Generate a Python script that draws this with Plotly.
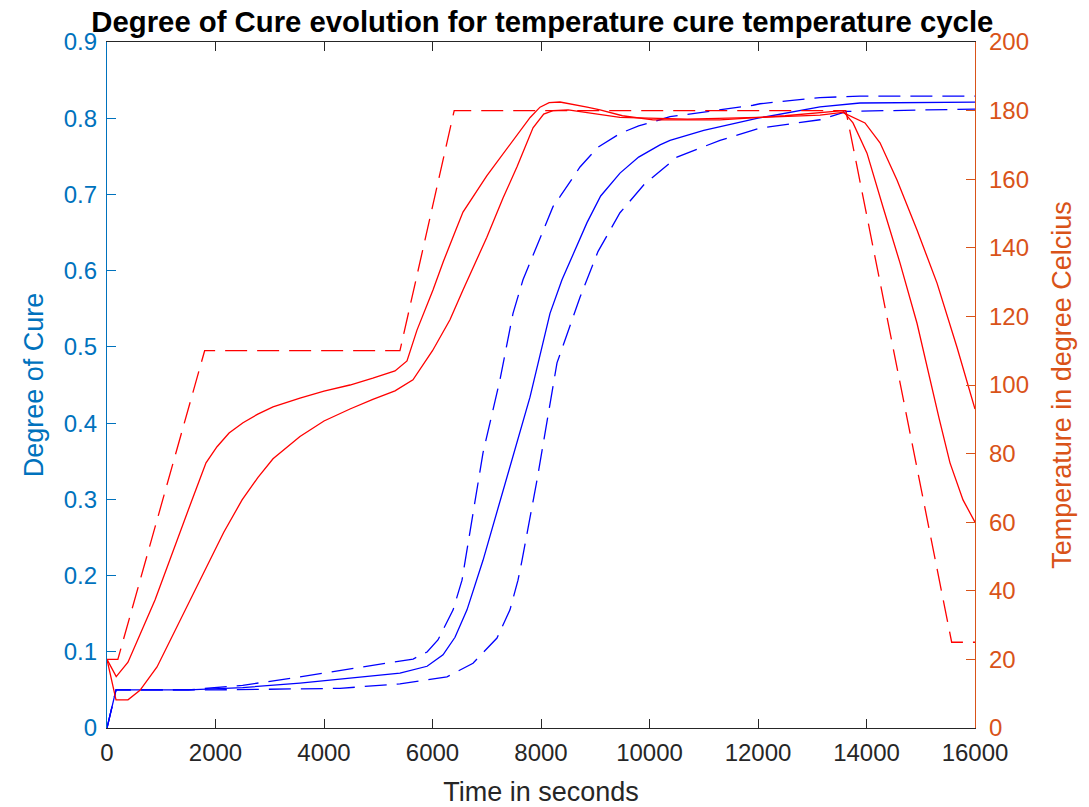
import plotly.graph_objects as go

# ---------------- data ----------------
# Temperature set-point cycle (red dashed, right axis)
t_set = [0, 200, 1800, 5400, 6400, 13620, 15570, 16000]
T_set = [20, 20, 110, 110, 180, 180, 25, 25]

# Temperature curve 1 (red solid, leading)
t_r1 = [0, 170, 387, 885, 1567, 1825, 2028, 2250, 2507, 2780, 3060, 3557, 4000, 4479, 4900, 5309, 5530, 5714, 6009,
        6200, 6415, 6562, 7000, 7300, 7558, 7800, 7982, 8150, 8350, 8600, 8850, 9088, 9500, 10065, 11300,
        12500, 13143, 13560, 13751, 14009, 14304, 14617, 14931, 15170, 15336, 15539, 15779, 16000]
T_r1 = [20, 15, 19.2, 37.3, 66.5, 77.3, 82, 86, 89, 91.5, 93.6, 96.2, 98.2, 100, 102, 104.1, 107, 116, 127.7,
        136, 144.6, 150.4, 161, 167.5, 172.9, 178, 181, 182.3, 182.5, 181.8, 181, 180.2, 178.5, 177.3, 177.3,
        178.5, 179.3, 180, 176.4, 167.6, 151.9, 135.6, 118, 101.5, 90.4, 77.3, 66.5, 60]

# Temperature curve 2 (red solid, lagging)
t_r2 = [0, 166, 387, 608, 922, 1530, 1800, 2150, 2490, 2780, 3060, 3557, 4000, 4479, 4900, 5309, 5640, 6000, 6322,
        6562, 7000, 7300, 7558, 7853, 8050, 8221, 8500, 9000, 9456, 10700, 12000, 13143, 13560,
        13972, 14249, 14562, 14931, 15300, 15668, 16000]
T_r2 = [20, 8.2, 8.2, 11, 17.8, 37.3, 46, 57, 66.5, 73, 78.5, 85, 89.5, 93, 95.8, 98.3, 101.5, 110, 119,
        127.7, 143, 154.5, 163.6, 175, 179, 180, 180.2, 179, 178, 177.5, 178, 178.7, 179.5,
        176.4, 170.6, 159.8, 145.2, 129.7, 111, 93]

# Degree of cure (blue, left axis)
t_b = [0, 166, 1500, 2500, 3557, 4295, 5400, 5900, 6194, 6415, 6636, 6931, 7392, 7797, 8166,
       8387, 8848, 9100, 9456, 9800, 10194, 10378, 11000, 12000, 13143, 13880, 16000]
a_b = [0, 0.05, 0.05, 0.053, 0.059, 0.064, 0.072, 0.081, 0.096, 0.119, 0.155, 0.22, 0.335, 0.434, 0.544,
       0.588, 0.663, 0.698, 0.728, 0.749, 0.765, 0.771, 0.784, 0.800, 0.815, 0.820, 0.821]

t_b1 = [0, 166, 1500, 2500, 3557, 4295, 5643, 5900, 6100, 6380, 6544, 6931, 7244, 7484, 7668,
        8221, 8350, 8719, 9050, 9456, 9800, 10194, 10378, 11908, 12037, 13143, 13880, 16000]
a_b1 = [0, 0.05, 0.05, 0.056, 0.067, 0.075, 0.0905, 0.0997, 0.1155, 0.155, 0.194, 0.361, 0.457, 0.544, 0.588,
        0.684, 0.697, 0.736, 0.762, 0.78, 0.790, 0.798, 0.802, 0.817, 0.819, 0.827, 0.829, 0.829]

t_b2 = [0, 166, 2000, 4295, 5400, 6267, 6747, 7189, 7428, 7576, 7650, 7926, 8295, 8719, 9050, 9456,
        9900, 10378, 10507, 11300, 12037, 13143, 13640, 16000]
a_b2 = [0, 0.05, 0.05, 0.052, 0.058, 0.067, 0.085, 0.118, 0.155, 0.194, 0.22, 0.325, 0.479, 0.565, 0.625, 0.676,
        0.713, 0.741, 0.749, 0.771, 0.787, 0.798, 0.809, 0.812]

x_ticks = [0, 2000, 4000, 6000, 8000, 10000, 12000, 14000, 16000]
y_ticks = [0, 0.1, 0.2, 0.3, 0.4, 0.5, 0.6, 0.7, 0.8, 0.9]
y2_ticks = [0, 20, 40, 60, 80, 100, 120, 140, 160, 180, 200]

# ---------------- styles ----------------
BLUE_AX = "#0072BD"
ORANGE_AX = "#D95319"
DARK = "#262626"
FONT = "Liberation Sans"
LW = 1.3
DASH = "22px,10px"

fig = go.Figure()

fig.add_trace(go.Scatter(x=t_set, y=T_set, mode="lines", yaxis="y2",
                         line=dict(color="#FF0000", width=LW, dash=DASH), showlegend=False))
fig.add_trace(go.Scatter(x=t_r1, y=T_r1, mode="lines", yaxis="y2",
                         line=dict(color="#FF0000", width=LW), showlegend=False))
fig.add_trace(go.Scatter(x=t_r2, y=T_r2, mode="lines", yaxis="y2",
                         line=dict(color="#FF0000", width=LW), showlegend=False))
fig.add_trace(go.Scatter(x=t_b, y=a_b, mode="lines", yaxis="y",
                         line=dict(color="#0000FF", width=LW), showlegend=False))
fig.add_trace(go.Scatter(x=t_b1, y=a_b1, mode="lines", yaxis="y",
                         line=dict(color="#0000FF", width=LW, dash=DASH), showlegend=False))
fig.add_trace(go.Scatter(x=t_b2, y=a_b2, mode="lines", yaxis="y",
                         line=dict(color="#0000FF", width=LW, dash=DASH), showlegend=False))

# page body has an 8px default margin, so the figure is sized/offset accordingly
fig.update_layout(
    width=1081, height=799,
    margin=dict(l=99, r=114, t=34, b=79, autoexpand=False),
    paper_bgcolor="white", plot_bgcolor="white",
    font=dict(family=FONT, size=24, color=DARK),
    title=dict(text="<b>Degree of Cure evolution for temperature cure temperature cycle</b>",
               x=0.4943, xanchor="center", y=0.996, yanchor="top", pad=dict(t=0),
               font=dict(family=FONT, size=29.3, color="#000000")),
    xaxis=dict(range=[0, 16000], tickvals=x_ticks, ticktext=[str(v) for v in x_ticks],
               ticks="inside", ticklen=9, tickwidth=1.3, tickcolor=DARK,
               showline=True, linecolor=DARK, linewidth=1.3, mirror="ticks",
               showgrid=False, zeroline=False, ticklabelstandoff=3,
               tickfont=dict(family=FONT, size=24, color=DARK),
               title=dict(text="Time in seconds", font=dict(family=FONT, size=27, color=DARK), standoff=19)),
    yaxis=dict(range=[0, 0.9], tickvals=y_ticks, ticktext=["0" if v == 0 else f"{v:.1f}" for v in y_ticks],
               ticks="inside", ticklen=9, tickwidth=1.3, tickcolor=BLUE_AX,
               showline=True, linecolor=BLUE_AX, linewidth=1.3,
               showgrid=False, zeroline=False, ticklabelstandoff=4,
               tickfont=dict(family=FONT, size=24, color=BLUE_AX),
               title=dict(text="Degree of Cure", font=dict(family=FONT, size=27, color=BLUE_AX), standoff=12)),
    yaxis2=dict(range=[0, 200], tickvals=y2_ticks, ticktext=[str(v) for v in y2_ticks],
                overlaying="y", side="right",
                ticks="inside", ticklen=9, tickwidth=1.3, tickcolor=ORANGE_AX,
                showline=True, linecolor=ORANGE_AX, linewidth=1.3,
                showgrid=False, zeroline=False, ticklabelstandoff=8,
                tickfont=dict(family=FONT, size=24, color=ORANGE_AX),
                title=dict(text="Temperature in degree Celcius", font=dict(family=FONT, size=27, color=ORANGE_AX), standoff=24)),
)

fig.write_html("out.html")
